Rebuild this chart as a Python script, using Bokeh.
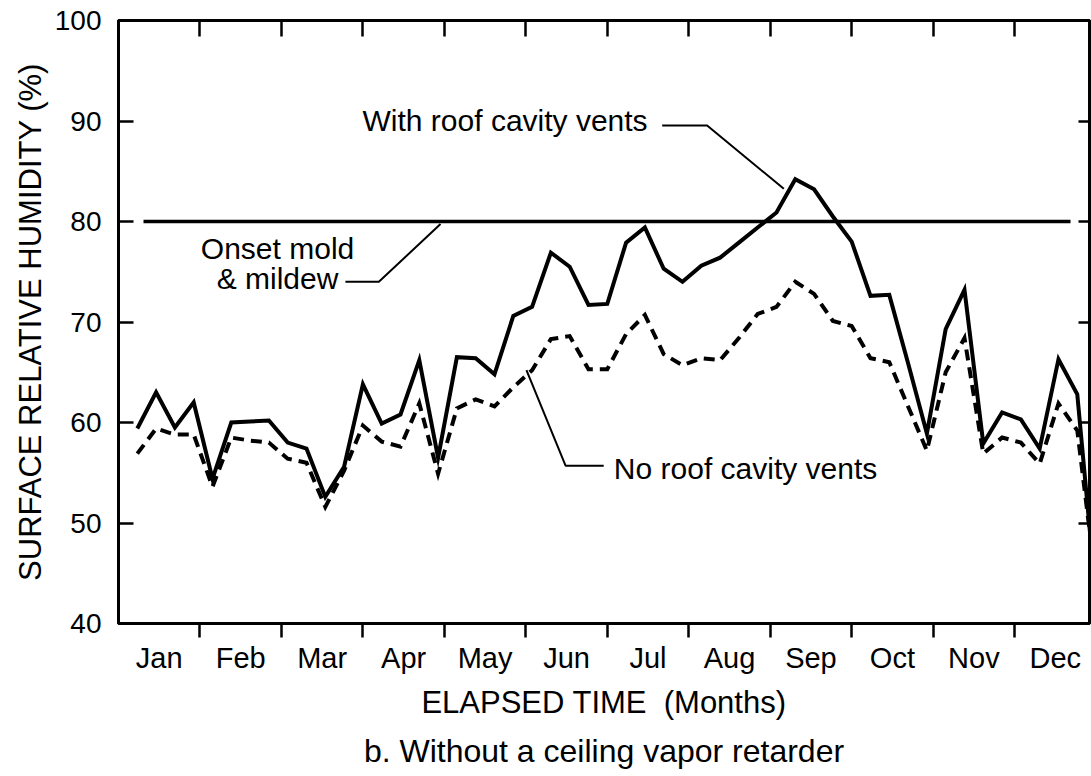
from bokeh.plotting import figure
from bokeh.models import Range1d, FixedTicker, LinearAxis, Label, Title
from bokeh.embed import file_html
from bokeh.resources import INLINE

# ---- data -------------------------------------------------------------
months = ["Jan", "Feb", "Mar", "Apr", "May", "Jun",
          "Jul", "Aug", "Sep", "Oct", "Nov", "Dec"]
weeks = list(range(1, 53))
with_vents = [59.4, 63.0, 59.5, 62.0, 54.4, 60.0, 60.1, 60.2, 58.0, 57.4,
              52.6, 55.6, 63.8, 59.9, 60.8, 66.2, 56.5, 66.5, 66.4, 64.8,
              70.6, 71.5, 76.9, 75.5, 71.7, 71.8, 77.9, 79.4, 75.3, 74.0,
              75.6, 76.4, 77.9, 79.4, 80.9, 84.2, 83.2, 80.5, 78.0, 72.6,
              72.7, 65.9, 58.9, 69.3, 73.2, 57.9, 61.0, 60.3, 57.4, 66.3,
              62.8, 42.5]
no_vents = [56.9, 59.4, 58.8, 58.8, 53.6, 58.5, 58.2, 58.0, 56.4, 56.0,
            51.6, 55.2, 59.7, 58.1, 57.6, 61.9, 54.9, 61.4, 62.3, 61.6,
            63.5, 65.2, 68.3, 68.6, 65.3, 65.3, 68.8, 70.7, 66.8, 65.7,
            66.4, 66.2, 68.4, 70.8, 71.5, 74.0, 72.8, 70.1, 69.6, 66.4,
            66.0, 61.6, 57.2, 65.0, 68.4, 56.9, 58.5, 58.0, 55.9, 61.9,
            59.2, 44.0]
threshold = 80
y_ticks = [40, 50, 60, 70, 80, 90, 100]
x_title = "ELAPSED TIME\u00a0 (Months)"
y_title = "SURFACE RELATIVE HUMIDITY (%)"
subtitle = "b. Without a ceiling vapor retarder"

FONT = "Liberation Sans"
WEEKS_PER_MONTH = 52 / 12
month_edges = [k * WEEKS_PER_MONTH for k in range(1, 12)]
month_centers = [(k + 0.5) * WEEKS_PER_MONTH for k in range(12)]

p = figure(width=1091, height=776, output_backend="svg", toolbar_location=None,
           x_range=Range1d(0, 51.65), y_range=Range1d(40, 100),
           min_border_left=118, min_border_right=2, min_border_top=20,
           min_border_bottom=153)
p.background_fill_color = "white"
p.border_fill_color = "white"
p.grid.visible = False
p.outline_line_color = "black"
p.outline_line_width = 3

# bottom axis: month names at centres, tick marks at month boundaries
xa = p.xaxis[0]
xa.ticker = FixedTicker(ticks=month_centers, minor_ticks=month_edges)
xa.major_label_overrides = {c: m for c, m in zip(month_centers, months)}
xa.major_tick_line_color = None
xa.major_tick_out = 0
xa.major_tick_in = 0
xa.minor_tick_in = 0
xa.minor_tick_out = 14
xa.minor_tick_line_width = 2.5
xa.minor_tick_line_color = "black"
xa.axis_line_width = 3
xa.major_label_standoff = 4
xa.major_label_text_font = FONT
xa.major_label_text_font_size = "29px"
xa.major_label_text_color = "black"
xa.axis_label = x_title
xa.axis_label_text_font = FONT
xa.axis_label_text_font_size = "31px"
xa.axis_label_text_font_style = "normal"
xa.axis_label_text_color = "black"
xa.axis_label_standoff = 8

# left axis
ya = p.yaxis[0]
ya.ticker = FixedTicker(ticks=y_ticks)
ya.major_tick_in = 15
ya.major_tick_out = 0
ya.major_tick_line_width = 2.5
ya.minor_tick_line_color = None
ya.axis_line_width = 3
ya.major_label_standoff = 17
ya.major_label_text_font = FONT
ya.major_label_text_font_size = "28px"
ya.major_label_text_color = "black"
ya.axis_label = y_title
ya.axis_label_text_font = FONT
ya.axis_label_text_font_size = "31px"
ya.axis_label_text_font_style = "normal"
ya.axis_label_text_color = "black"
ya.axis_label_standoff = 4

# top axis: inward month-boundary ticks, no labels
ta = LinearAxis(ticker=FixedTicker(ticks=month_edges),
                major_label_overrides={e: "" for e in month_edges},
                major_label_standoff=0,
                major_tick_in=16, major_tick_out=0, major_tick_line_width=2.5,
                minor_tick_line_color=None, axis_line_width=3)
p.add_layout(ta, "above")

# right axis: inward ticks, no labels
ra = LinearAxis(ticker=FixedTicker(ticks=y_ticks[1:-1]),
                major_label_overrides={t: "" for t in y_ticks[1:-1]},
                major_label_standoff=0,
                major_tick_in=11, major_tick_out=0, major_tick_line_width=2.5,
                minor_tick_line_color=None, axis_line_width=3)
p.add_layout(ra, "right")

# subtitle below the axis title
p.add_layout(Title(text=subtitle, align="center",
                   text_font=FONT, text_font_size="32px",
                   text_font_style="normal", text_color="black",
                   standoff=16, offset=44), "below")

# ---- series -------------------------------------------------------------
p.line([1.33, 50.64], [threshold, threshold], line_color="black", line_width=3.5)
p.line(weeks, with_vents, line_color="black", line_width=4, line_join="miter")
p.line(weeks, no_vents, line_color="black", line_width=4, line_dash="11 7",
       line_join="miter")

# ---- annotations ----------------------------------------------------------
def leader(xs, ys):
    p.line(xs, ys, line_color="black", line_width=2)

leader([28.92, 31.31, 35.39], [89.55, 89.55, 83.25])
leader([12.07, 13.85, 17.13], [74.0, 74.0, 79.75])
leader([25.81, 23.78, 21.70], [55.7, 55.7, 65.2])

def note(x, y, text, align="left"):
    p.add_layout(Label(x=x, y=y, text=text, text_font=FONT,
                       text_font_size="30px", text_color="black",
                       text_align=align, text_baseline="middle"))

note(12.98, 90.05, "With roof cavity vents")
note(8.46, 77.3, "Onset mold", "center")
note(8.46, 74.3, "& mildew", "center")
note(26.35, 55.4, "No roof cavity vents")

open("out.html", "w").write(file_html(p, INLINE))
